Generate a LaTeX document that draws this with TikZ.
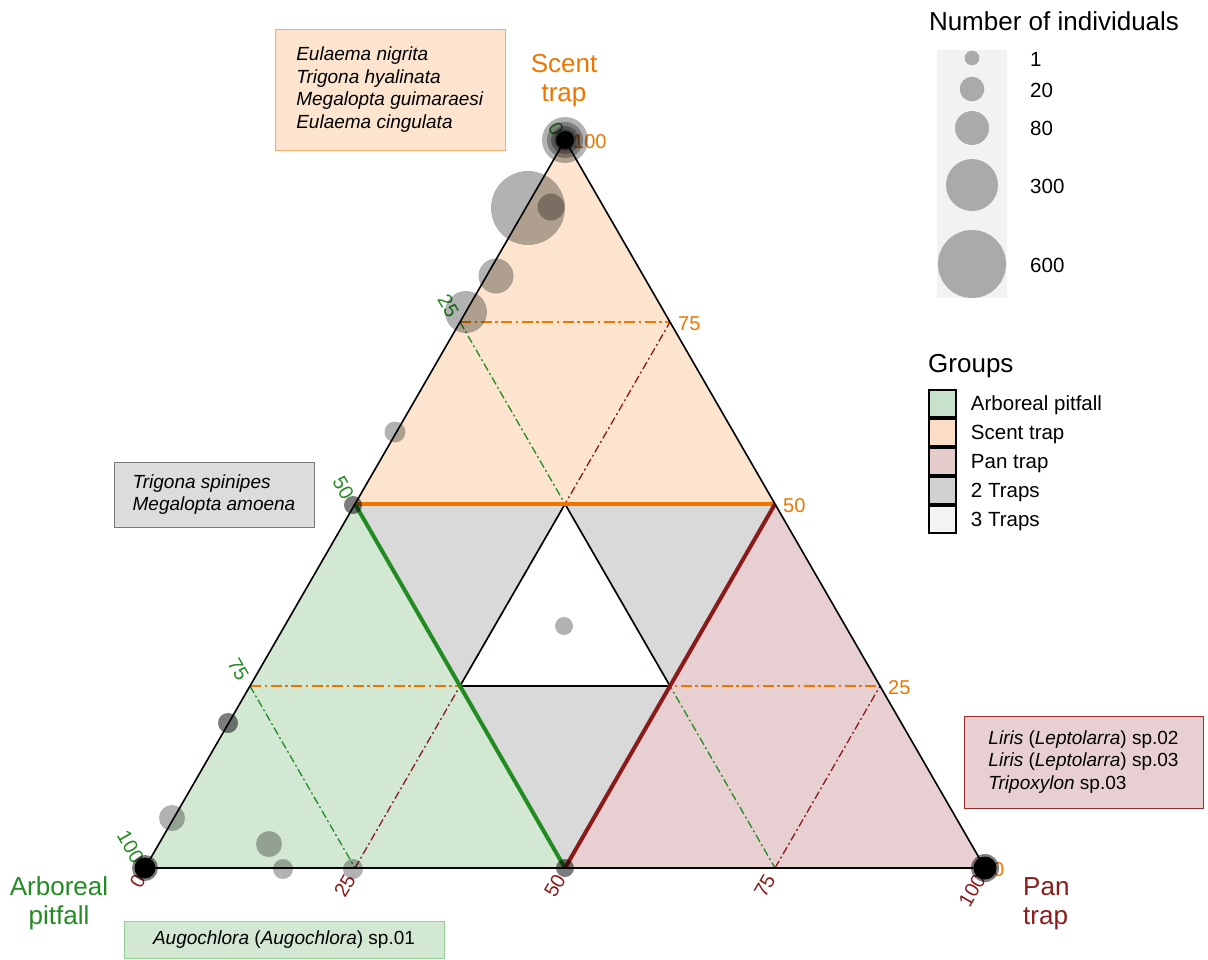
\documentclass[tikz,border=0pt]{standalone}
\usepackage{fontspec}
\setmainfont{Liberation Sans}
\usepackage{xcolor}
\usepackage{tikz}
\usetikzlibrary{positioning}
\definecolor{scentorange}{RGB}{238,118,0}
\definecolor{arborgreen}{RGB}{34,139,34}
\definecolor{pandred}{RGB}{139,26,26}
\definecolor{arborfill}{RGB}{211,232,211}
\definecolor{scentfill}{RGB}{252,228,206}
\definecolor{panfill}{RGB}{232,208,210}
\definecolor{twofill}{RGB}{217,217,217}
\definecolor{sizegray}{RGB}{170,170,170}
\definecolor{sizeback}{RGB}{242,242,242}
\definecolor{legarb}{RGB}{200,226,205}
\definecolor{legscent}{RGB}{249,221,197}
\definecolor{legpan}{RGB}{228,204,205}
\definecolor{legtwo}{RGB}{209,209,209}
\definecolor{legthree}{RGB}{244,244,244}
\newcommand{\vtxfont}{\fontsize{26}{29}\selectfont}
\newcommand{\tickfont}{\fontsize{20}{23}\selectfont}
\newcommand{\spfont}{\fontsize{19}{22.4}\selectfont}
\newcommand{\legfont}{\fontsize{20.5}{24}\selectfont}

\begin{document}
\begin{tikzpicture}[
      x=1pt, y=-1pt,
      tickl/.style={font=\tickfont, inner sep=3pt},
      tickleft/.style={tickl, arborgreen, xshift=-4.5pt, yshift=4pt, rotate=-60, anchor=east},
      tickright/.style={tickl, scentorange, anchor=west, xshift=5pt, yshift=-1.5pt},
      tickbottom/.style={tickl, pandred, xshift=-3pt, yshift=-5.5pt, rotate=60, anchor=east},
      bubble/.style={fill=black, fill opacity=0.3},
      spbox/.style={draw, line width=1pt, align=left, font=\spfont, inner sep=0pt},
      grpbox/.style={draw, line width=1.5pt, minimum size=27pt, inner sep=0pt},
      grplab/.style={font=\legfont, inner sep=0pt, text height=15pt, text depth=4.5pt, yshift=-2pt},
      dashdot/.style={line width=1.3pt, dash pattern=on 8pt off 3pt on 2pt off 3pt},
      dashdotwide/.style={line width=1.8pt, dash pattern=on 11pt off 3.5pt on 2.5pt off 3.5pt},
      thickgrp/.style={line width=4pt},
      edge/.style={line width=1.6pt}
    ]
    \useasboundingbox (0,0) rectangle (1208,959);

    \coordinate (A) at (145,868);
    \coordinate (P) at (985,868);
    \coordinate (S) at (565,140);
    \coordinate (la25) at (460,322);
    \coordinate (la50) at (355,504);
    \coordinate (la75) at (250,686);
    \coordinate (rs75) at (670,322);
    \coordinate (rs50) at (775,504);
    \coordinate (rs25) at (880,686);
    \coordinate (bp25) at (355,868);
    \coordinate (bp50) at (565,868);
    \coordinate (bp75) at (775,868);
    \coordinate (in1) at (565,504);
    \coordinate (in2) at (460,686);
    \coordinate (in3) at (670,686);

    \fill[arborfill] (A) -- (la50) -- (bp50) -- cycle;
    \fill[scentfill] (S) -- (la50) -- (rs50) -- cycle;
    \fill[panfill] (P) -- (bp50) -- (rs50) -- cycle;
    \fill[twofill] (la50) -- (in1) -- (in2) -- cycle;
    \fill[twofill] (in1) -- (rs50) -- (in3) -- cycle;
    \fill[twofill] (in2) -- (in3) -- (bp50) -- cycle;

    \draw[dashdotwide, scentorange] (la25) -- (rs75);
    \draw[dashdotwide, scentorange] (la75) -- (rs25);
    \draw[dashdot, arborgreen] (la75) -- (bp25);
    \draw[dashdot, arborgreen] (la25) -- (bp75);
    \draw[dashdot, pandred] (bp25) -- (rs75);
    \draw[dashdot, pandred] (bp75) -- (rs25);

    \draw[edge] (in1) -- (in2) -- (in3) -- cycle;
    \draw[thickgrp, scentorange] (la50) -- (rs50);
    \draw[thickgrp, arborgreen] (la50) -- (bp50);
    \draw[thickgrp, pandred] (bp50) -- (rs50);
    \draw[edge] (A) -- (S) -- (P) -- cycle;

    \node[tickleft] (ta0)   at (S)    {0};
    \node[tickleft] (ta25)  at (la25) {25};
    \node[tickleft] (ta50)  at (la50) {50};
    \node[tickleft] (ta75)  at (la75) {75};
    \node[tickleft] (ta100) at (A)    {100};

    \node[tickright] (ts100) at (S)    {100};
    \node[tickright] (ts75)  at (rs75) {75};
    \node[tickright] (ts50)  at (rs50) {50};
    \node[tickright] (ts25)  at (rs25) {25};
    \node[tickright] (ts0)   at (P)    {0};

    \node[tickbottom] (tp0)   at (A)    {0};
    \node[tickbottom] (tp25)  at (bp25) {25};
    \node[tickbottom] (tp50)  at (bp50) {50};
    \node[tickbottom] (tp75)  at (bp75) {75};
    \node[tickbottom] (tp100) at (P)    {100};

    \fill[bubble] (S) circle[radius=23pt];
    \fill[bubble] (S) circle[radius=18pt];
    \fill[bubble] (S) circle[radius=14pt];
    \fill[bubble] (S) circle[radius=11pt];
    \fill (S) circle[radius=9pt];
    \fill[bubble] (528,208) circle[radius=37pt];
    \fill[bubble] (551,207) circle[radius=13.5pt];
    \fill[bubble] (496,276) circle[radius=17.5pt];
    \fill[bubble] (466,312) circle[radius=21pt];
    \fill[bubble] (395,432) circle[radius=10.5pt];
    \fill[bubble] (353,505) circle[radius=9pt];
    \fill[bubble] (353,505) circle[radius=9pt];
    \fill[bubble] (564,626) circle[radius=9pt];
    \fill[bubble] (228,723) circle[radius=10pt];
    \fill[bubble] (228,723) circle[radius=10pt];
    \fill[bubble] (172,818) circle[radius=13pt];
    \fill[bubble] (269,844) circle[radius=13pt];
    \fill[bubble] (283,869) circle[radius=10pt];
    \fill[bubble] (353,869) circle[radius=10pt];
    \fill[bubble] (bp50) circle[radius=9pt];
    \fill[bubble] (bp50) circle[radius=9pt];
    \fill[bubble, fill opacity=0.5] (A) circle[radius=13pt];
    \fill (A) circle[radius=10.5pt];
    \fill[bubble, fill opacity=0.5] (P) circle[radius=14pt];
    \fill (P) circle[radius=11.5pt];

    \node[font=\vtxfont, scentorange, align=center, inner sep=0pt] (scentlab) at (564,80.5) {Scent\\trap};
    \node[font=\vtxfont, arborgreen, align=center, inner sep=0pt] (arblab) at (59,903) {Arboreal\\pitfall};
    \node[font=\vtxfont, pandred, align=left, anchor=west, inner sep=0pt] (panlab) at (1023,904) {Pan\\trap};

    \node[spbox, fill=scentfill, draw={rgb,255:red,242;green,172;blue,110},
          minimum width=230pt, minimum height=121pt] (scentsp) at (390,89.5)
      {\textit{Eulaema nigrita}\\\textit{Trigona hyalinata}\\\textit{Megalopta guimaraesi}\\\textit{Eulaema cingulata}};
    \node[spbox, fill={rgb,255:red,220;green,220;blue,220}, draw={rgb,255:red,120;green,120;blue,120},
          minimum width=200pt, minimum height=65pt] (twosp) at (214,494.5)
      {\textit{Trigona spinipes}\\\textit{Megalopta amoena}};
    \node[spbox, fill=panfill, draw={rgb,255:red,160;green,40;blue,40},
          minimum width=239pt, minimum height=92pt] (pansp) at (1083.5,762)
      {\textit{Liris} (\textit{Leptolarra}) sp.02\\\textit{Liris} (\textit{Leptolarra}) sp.03\\\textit{Tripoxylon} sp.03};
    \node[spbox, fill=arborfill, draw={rgb,255:red,150;green,205;blue,150},
          minimum width=320pt, minimum height=37pt] (arbsp) at (284,939.5)
      {\textit{Augochlora} (\textit{Augochlora}) sp.01};

    \node[font=\vtxfont, inner sep=0pt] (sizetitle) at (1054,21) {Number of individuals};
    \fill[sizeback] (937,50) rectangle (1007,298);
    \node[circle, fill=sizegray, minimum size=14.6pt, inner sep=0pt] (n1)   at (972,58)  {};
    \node[circle, fill=sizegray, minimum size=24.6pt, inner sep=0pt] (n20)  at (972,89)  {};
    \node[circle, fill=sizegray, minimum size=34pt,   inner sep=0pt] (n80)  at (972,128) {};
    \node[circle, fill=sizegray, minimum size=52pt,   inner sep=0pt] (n300) at (972,185) {};
    \node[circle, fill=sizegray, minimum size=68pt,   inner sep=0pt] (n600) at (972,264) {};
    \node[font=\legfont, anchor=west, inner sep=0pt] (s1)   at (1030,59)  {1};
    \node[font=\legfont, anchor=west, inner sep=0pt] (s20)  at (1030,90)  {20};
    \node[font=\legfont, anchor=west, inner sep=0pt] (s80)  at (1030,128) {80};
    \node[font=\legfont, anchor=west, inner sep=0pt] (s300) at (1030,186) {300};
    \node[font=\legfont, anchor=west, inner sep=0pt] (s600) at (1030,265) {600};

    \node[font=\vtxfont, anchor=west, inner sep=0pt] (grptitle) at (928,366) {Groups};
    \node[grpbox, fill=legarb] (g1) at (942.5,403.5) {};
    \node[grpbox, fill=legscent, below=0.5pt of g1] (g2) {};
    \node[grpbox, fill=legpan,   below=0.5pt of g2] (g3) {};
    \node[grpbox, fill=legtwo,   below=0.5pt of g3] (g4) {};
    \node[grpbox, fill=legthree, below=0.5pt of g4] (g5) {};
    \node[grplab, right=14pt of g1] (t1) {Arboreal pitfall};
    \node[grplab, right=14pt of g2] (t2) {Scent trap};
    \node[grplab, right=14pt of g3] (t3) {Pan trap};
    \node[grplab, right=14pt of g4] (t4) {2 Traps};
    \node[grplab, right=14pt of g5] (t5) {3 Traps};
  \end{tikzpicture}
\end{document}
